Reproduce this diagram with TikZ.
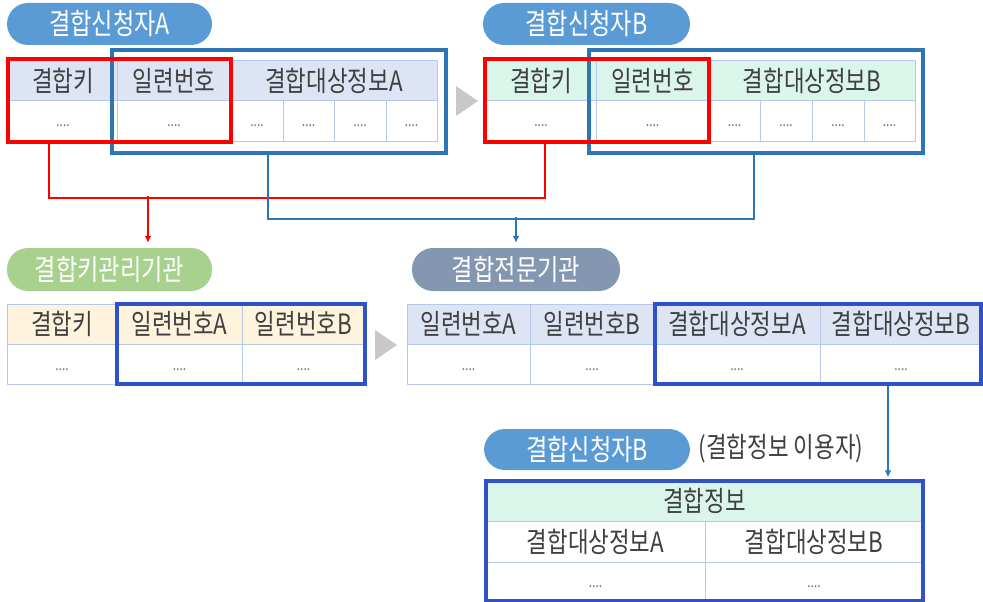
\documentclass[tikz,border=0pt]{standalone}
\usepackage{fontspec}
\usetikzlibrary{arrows.meta}
\setmainfont{Noto Sans CJK KR}[FakeStretch=0.8]
\definecolor{pillblue}{HTML}{5B9BD5}
\definecolor{pillgreen}{HTML}{A9D18E}
\definecolor{pillgray}{HTML}{8497B0}
\definecolor{hdrA}{HTML}{DDE5F5}
\definecolor{hdrB}{HTML}{DAF5EA}
\definecolor{hdrK}{HTML}{FEF3DC}
\definecolor{cellc}{HTML}{B8C8EA}
\definecolor{txt}{HTML}{404040}
\definecolor{dotc}{HTML}{707070}
\definecolor{boxred}{HTML}{FF0000}
\definecolor{boxblue}{HTML}{2E75B6}
\definecolor{boxroyal}{HTML}{2F52C6}
\definecolor{tri}{HTML}{C8C8C8}
\begin{document}
\begin{tikzpicture}[x=1pt,y=-1pt,
  cell/.style={draw=cellc, line width=1pt, inner sep=0pt, text=txt,
    font=\fontsize{28}{31}\selectfont},
  hA/.style={cell, fill=hdrA, minimum height=39pt},
  hB/.style={cell, fill=hdrB, minimum height=39pt},
  hK/.style={cell, fill=hdrK, minimum height=39pt},
  dcell/.style={cell, fill=white, minimum height=41pt, text=dotc,
    font=\fontsize{15}{16}\selectfont, text height=12pt, text depth=0pt},
  pill/.style={rounded corners=21pt, text=white, inner sep=0pt,
    minimum height=42pt, font=\fontsize{29}{31}\selectfont},
  redbox/.style={draw=boxred, line width=3.4pt, fill=none, inner sep=0pt},
  bluebox/.style={draw=boxblue, line width=3.2pt, fill=none, inner sep=0pt},
  royalbox/.style={draw=boxroyal, line width=3.4pt, fill=none, inner sep=0pt},
  redl/.style={draw=boxred, line width=2.4pt},
  bluel/.style={draw=boxblue, line width=2.2pt},
  tip/.style={-{Latex[length=7pt,width=7pt]}},
]
\useasboundingbox (0,0) rectangle (983,602);

% ---------- top left: 결합신청자A ----------
\node[pill, fill=pillblue, minimum width=205pt] (pA) at (109.5,24) {결합신청자A};
\node[hA, minimum width=108pt] (a1) at (63,80.5) {결합키};
\node[hA, minimum width=114pt] (a2) at (174,80.5) {일련번호};
\node[hA, minimum width=206pt] (a3) at (334,80.5) {결합대상정보A};
\node[dcell, minimum width=108pt] (a4) at (63,120.5) {....};
\node[dcell, minimum width=114pt] (a5) at (174,120.5) {....};
\node[dcell, minimum width=52pt] (a6) at (257,120.5) {....};
\node[dcell, minimum width=51pt] (a7) at (308.5,120.5) {....};
\node[dcell, minimum width=52pt] (a8) at (360,120.5) {....};
\node[dcell, minimum width=51pt] (a9) at (411.5,120.5) {....};
\node[bluebox, minimum width=334pt, minimum height=103pt] (bA) at (279,101.5) {};
\node[redbox, minimum width=223pt, minimum height=83pt] (rA) at (119.5,100.5) {};

\fill[tri] (456,86) -- (478,101) -- (456,116) -- cycle;

% ---------- top right: 결합신청자B ----------
\node[pill, fill=pillblue, minimum width=207pt] (pB) at (586.5,24) {결합신청자B};
\node[hB, minimum width=110pt] (b1) at (541,80.5) {결합키};
\node[hB, minimum width=113pt] (b2) at (652.5,80.5) {일련번호};
\node[hB, minimum width=206pt] (b3) at (812,80.5) {결합대상정보B};
\node[dcell, minimum width=110pt] (b4) at (541,120.5) {....};
\node[dcell, minimum width=113pt] (b5) at (652.5,120.5) {....};
\node[dcell, minimum width=51pt] (b6) at (734.5,120.5) {....};
\node[dcell, minimum width=52pt] (b7) at (786,120.5) {....};
\node[dcell, minimum width=52pt] (b8) at (838,120.5) {....};
\node[dcell, minimum width=51pt] (b9) at (889.5,120.5) {....};
\node[bluebox, minimum width=334pt, minimum height=103pt] (bB) at (756,101.5) {};
\node[redbox, minimum width=224pt, minimum height=83pt] (rB) at (597,100.5) {};

% ---------- connectors from the top ----------
\draw[redl] ([xshift=-70.5pt]rA.south) -- ++(0,54) -| ([xshift=-52pt]rB.south);
\draw[bluel] ([xshift=-11pt]bA.south) -- ++(0,64) -| ([xshift=-2pt]bB.south);
\coordinate (jr2) at (148,196);
\coordinate (jb2) at (516,217);

% ---------- middle left: 결합키관리기관 ----------
\node[pill, fill=pillgreen, minimum width=205pt, minimum height=43pt] (pK) at (109.5,269.5) {결합키관리기관};
\node[hK, minimum width=110pt, minimum height=40pt] (k1) at (62,324) {결합키};
\node[hK, minimum width=125pt, minimum height=40pt] (k2) at (179.5,324) {일련번호A};
\node[hK, minimum width=123pt, minimum height=40pt] (k3) at (303.5,324) {일련번호B};
\node[dcell, minimum width=110pt, minimum height=40pt] (k4) at (62,364) {....};
\node[dcell, minimum width=125pt, minimum height=40pt] (k5) at (179.5,364) {....};
\node[dcell, minimum width=123pt, minimum height=40pt] (k6) at (303.5,364) {....};
\node[royalbox, minimum width=248pt, minimum height=80pt] (bK) at (241,344) {};

\fill[tri] (375,330) -- (397,345) -- (375,360) -- cycle;

% ---------- middle right: 결합전문기관 ----------
\node[pill, fill=pillgray, minimum width=208pt, minimum height=43pt] (pE) at (516,269.5) {결합전문기관};
\node[hA, minimum width=123pt, minimum height=40pt] (e1) at (468.5,324) {일련번호A};
\node[hA, minimum width=124pt, minimum height=40pt] (e2) at (592,324) {일련번호B};
\node[hA, minimum width=166pt, minimum height=40pt] (e3) at (737,324) {결합대상정보A};
\node[hA, minimum width=162pt, minimum height=40pt] (e4) at (901,324) {결합대상정보B};
\node[dcell, minimum width=123pt, minimum height=40pt] (e5) at (468.5,364) {....};
\node[dcell, minimum width=124pt, minimum height=40pt] (e6) at (592,364) {....};
\node[dcell, minimum width=166pt, minimum height=40pt] (e7) at (737,364) {....};
\node[dcell, minimum width=162pt, minimum height=40pt] (e8) at (901,364) {....};
\node[royalbox, minimum width=326pt, minimum height=80pt] (bE) at (818,344) {};

% arrows into the middle row
\draw[redl, tip, shorten >=5pt] (jr2) -- (jr2 |- pK.north);
\draw[bluel, tip, shorten >=5pt] (jb2) -- (jb2 |- pE.north);

% ---------- bottom: 결합정보 ----------
\node[pill, fill=pillblue, minimum width=206pt, minimum height=41pt] (pU) at (587,449.5) {결합신청자B};
\node[text=txt, inner sep=0pt, font=\fontsize{28}{31}\selectfont] (uLbl) at (781,449) {(결합정보 이용자)};
\node[hB, minimum width=437pt, minimum height=40pt] (f1) at (704.5,501) {결합정보};
\node[cell, fill=white, minimum width=219pt, minimum height=41pt] (f2) at (595.5,541.5) {결합대상정보A};
\node[cell, fill=white, minimum width=218pt, minimum height=41pt] (f3) at (814,541.5) {결합대상정보B};
\node[dcell, minimum width=219pt, minimum height=39pt] (f4) at (595.5,581.5) {....};
\node[dcell, minimum width=218pt, minimum height=39pt] (f5) at (814,581.5) {....};
\node[royalbox, minimum width=437pt, minimum height=120pt] (bF) at (704.5,541) {};

\draw[bluel, tip, shorten >=2pt] ([xshift=70pt]bE.south) -- ([xshift=70pt]bE.south |- bF.north);
\end{tikzpicture}
\end{document}
